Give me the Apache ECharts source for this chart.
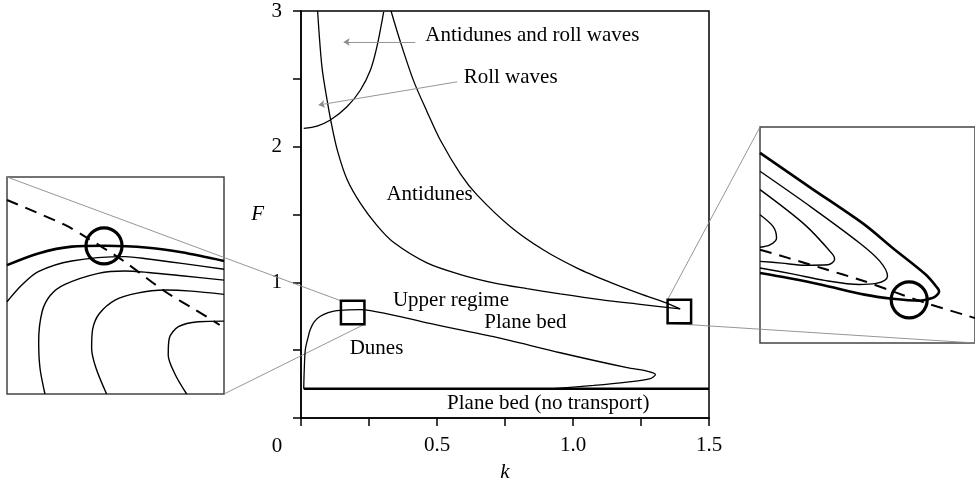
<!DOCTYPE html>
<html>
<head>
<meta charset="utf-8">
<script src="https://cdn.jsdelivr.net/npm/echarts@6/dist/echarts.min.js"></script>
<style>
  html, body { margin: 0; padding: 0; background: #fff; }
  #chart { width: 975px; height: 488px; }
</style>
</head>
<body>
<div id="chart"></div>
<script>
// main diagram, (k, F)
const curveA = [[0.061,3.0],[0.077,2.588],[0.096,2.343],[0.114,2.147],[0.135,1.963],[0.169,1.760],[0.218,1.584],[0.279,1.420],[0.340,1.295],[0.463,1.143],[0.586,1.057],[0.708,0.996],[0.831,0.953],[0.953,0.915],[1.100,0.873],[1.247,0.838],[1.394,0.804]];
const curveB = [[0.331,3.0],[0.365,2.775],[0.414,2.485],[0.463,2.260],[0.512,2.049],[0.586,1.800],[0.647,1.645],[0.769,1.412],[0.892,1.238],[1.015,1.105],[1.137,1.000],[1.248,0.915],[1.340,0.850],[1.394,0.804]];
const rollCurve = [[0.010,2.135],[0.059,2.152],[0.108,2.196],[0.169,2.294],[0.218,2.416],[0.255,2.563],[0.279,2.735],[0.304,2.993]];
const dunesCurve = [[0.010,0.216],[0.012,0.358],[0.016,0.505],[0.027,0.601],[0.034,0.652],[0.049,0.711],[0.071,0.750],[0.100,0.777],[0.132,0.792],[0.218,0.799],[0.255,0.792],[0.365,0.748],[0.463,0.701],[0.708,0.599],[0.953,0.481],[1.199,0.371],[1.272,0.346],[1.303,0.321],[1.284,0.290],[1.199,0.265],[1.076,0.240],[0.929,0.216]];
const noTransport = [[0.010,0.216],[1.5,0.216]];
const zoomBoxes = [[0.190,0.777],[1.391,0.785]];

const regionNames = ['Antidunes and roll waves','Roll waves','Antidunes','Upper regime','Plane bed','Dunes','Plane bed (no transport)'];
const regionPos = [[0.457,2.821],[0.598,2.509],[0.314,1.645],[0.338,0.865],[0.674,0.701],[0.179,0.510],[0.537,0.108]];
const leaders = [[[0.420,2.772],[0.157,2.772]],[[0.574,2.478],[0.065,2.307]]];

// left inset (local 0..1 units)
const leftDash = [[0,0.894],[0.267,0.779],[0.36,0.725],[0.53,0.618],[0.73,0.471],[0.87,0.387],[0.98,0.318]];
const leftThick = [[0,0.594],[0.144,0.648],[0.298,0.679],[0.452,0.683],[0.651,0.674],[0.805,0.653],[1,0.613]];
const leftThinA = [[0,0.425],[0.068,0.502],[0.144,0.564],[0.298,0.613],[0.544,0.633],[0.651,0.622],[0.805,0.602],[1,0.575]];
const leftThinB = [[0.175,0],[0.152,0.12],[0.146,0.241],[0.162,0.38],[0.2,0.455],[0.267,0.505],[0.421,0.556],[0.544,0.567],[0.651,0.560],[0.805,0.545],[1,0.525]];
const leftThinC = [[0.459,0],[0.41,0.12],[0.39,0.21],[0.395,0.3],[0.425,0.37],[0.498,0.433],[0.6,0.465],[0.728,0.479],[0.85,0.474],[1,0.459]];
const leftThinD = [[0.828,0],[0.775,0.09],[0.743,0.18],[0.748,0.257],[0.79,0.31],[0.882,0.333],[1,0.336]];
const leftMark = [[0.447,0.683]];

// right inset
const rightDash = [[0,0.432],[0.130,0.394],[0.286,0.347],[0.486,0.286],[0.617,0.239],[0.772,0.185],[0.972,0.124],[1,0.116]];
const rightThick = [[0,0.880],[0.241,0.715],[0.486,0.548],[0.617,0.440],[0.772,0.316],[0.825,0.255],[0.833,0.239],[0.819,0.218],[0.802,0.208],[0.741,0.196],[0.617,0.205],[0.486,0.224],[0.286,0.270],[0.131,0.301],[0,0.324]];
const rightThin1 = [[0,0.795],[0.241,0.627],[0.463,0.463],[0.556,0.380],[0.593,0.310],[0.580,0.290],[0.540,0.276],[0.463,0.271],[0.3,0.290],[0.15,0.320],[0,0.347]];
const rightThin2 = [[0,0.710],[0.208,0.548],[0.339,0.409],[0.347,0.386],[0.316,0.362],[0.208,0.360],[0.1,0.37],[0,0.378]];
const rightThin3 = [[0,0.594],[0.062,0.538],[0.077,0.485],[0.046,0.454],[0,0.443]];
const rightMark = [[0.694,0.2]];

const FONT = 'Liberation Serif';
const BOX = 23.5;

function curve(data, width, grid, dashed) {
  return {
    type: 'line', data: data, xAxisIndex: grid, yAxisIndex: grid,
    smooth: 0.3, symbol: 'none', silent: true,
    lineStyle: { color: '#000', width: width, type: dashed ? [12, 8] : 'solid' },
    z: 3
  };
}

function ring(data, grid, symbol, size, width) {
  return {
    type: 'scatter', data: data, xAxisIndex: grid, yAxisIndex: grid,
    symbol: symbol, symbolSize: size, silent: true,
    itemStyle: { color: 'rgba(0,0,0,0)', borderColor: '#000', borderWidth: width, opacity: 1 },
    z: 5
  };
}

function insetAxes(i) {
  return {
    x: { type: 'value', gridIndex: i, min: 0, max: 1, show: false },
    y: { type: 'value', gridIndex: i, min: 0, max: 1, show: false }
  };
}

const myChart = echarts.init(document.getElementById('chart'), null, { renderer: 'canvas' });
const ax1 = insetAxes(1), ax2 = insetAxes(2);

const option = {
  animation: false,
  backgroundColor: '#fff',
  textStyle: { fontFamily: FONT },
  grid: [
    { left: 301, top: 11, width: 408, height: 408, show: true, borderColor: '#000', borderWidth: 1.5 },
    { left: 7, top: 177, width: 217, height: 217, show: true, borderColor: '#444', borderWidth: 1.5, backgroundColor: '#fff' },
    { left: 760, top: 127, width: 216, height: 216, show: true, borderColor: '#444', borderWidth: 1.5, backgroundColor: '#fff' }
  ],
  xAxis: [
    {
      type: 'value', gridIndex: 0, min: 0, max: 1.5, interval: 0.25,
      name: 'k', nameLocation: 'middle', nameGap: 44,
      nameTextStyle: { fontFamily: FONT, fontSize: 21, fontStyle: 'italic', color: '#000' },
      axisLine: { lineStyle: { color: '#000', width: 1.5 } },
      axisTick: { inside: false, length: 8, lineStyle: { color: '#000', width: 1.5 } },
      axisLabel: {
        margin: 17, fontFamily: FONT, fontSize: 21, color: '#000',
        formatter: function (v) { return (v > 0 && v % 0.5 === 0) ? v.toFixed(1) : ''; }
      },
      splitLine: { show: false }
    },
    ax1.x, ax2.x
  ],
  yAxis: [
    {
      type: 'value', gridIndex: 0, min: 0, max: 3, interval: 0.5,
      name: 'F', nameLocation: 'middle', nameGap: 37, nameRotate: 0,
      nameTextStyle: { fontFamily: FONT, fontSize: 21, fontStyle: 'italic', color: '#000', align: 'right' },
      axisLine: { lineStyle: { color: '#000', width: 1.5 } },
      axisTick: { inside: false, length: 8, lineStyle: { color: '#000', width: 1.5 } },
      axisLabel: {
        margin: 19, fontFamily: FONT, fontSize: 21, color: '#000',
        formatter: function (v) { return (v > 0 && v % 1 === 0) ? String(v) : ''; }
      },
      splitLine: { show: false }
    },
    ax1.y, ax2.y
  ],
  series: [
    curve(curveA, 1.3, 0),
    curve(curveB, 1.3, 0),
    curve(rollCurve, 1.3, 0),
    curve(dunesCurve, 1.3, 0),
    {
      type: 'line', data: noTransport, xAxisIndex: 0, yAxisIndex: 0, symbol: 'none', silent: true,
      lineStyle: { color: '#000', width: 2.5 }, z: 3
    },
    ring(zoomBoxes, 0, 'rect', BOX, 2.5),
    {
      type: 'scatter', xAxisIndex: 0, yAxisIndex: 0, symbolSize: 0, silent: true,
      itemStyle: { opacity: 1 },
      data: regionNames.map(function (n, i) { return { name: n, value: regionPos[i] }; }),
      label: {
        show: true, position: 'right', distance: 0, formatter: '{b}',
        fontFamily: FONT, fontSize: 21, color: '#000'
      },
      markLine: {
        silent: true, symbol: ['none', 'arrow'], symbolSize: 6,
        lineStyle: { color: '#8a8a8a', width: 0.9, type: 'solid' },
        label: { show: false },
        data: leaders.map(function (l) { return [{ coord: l[0] }, { coord: l[1] }]; })
      },
      z: 4
    },
    // left inset
    curve(leftDash, 2, 1, true),
    curve(leftThick, 2.6, 1),
    curve(leftThinA, 1.4, 1),
    curve(leftThinB, 1.4, 1),
    curve(leftThinC, 1.4, 1),
    curve(leftThinD, 1.4, 1),
    ring(leftMark, 1, 'circle', 36, 3.2),
    // right inset
    curve(rightDash, 2, 2, true),
    curve(rightThick, 2.6, 2),
    curve(rightThin1, 1.4, 2),
    curve(rightThin2, 1.4, 2),
    curve(rightThin3, 1.4, 2),
    ring(rightMark, 2, 'circle', 36, 3.2)
  ]
};

myChart.setOption(option);

// connector lines between the small boxes and the insets, plus the shared origin label
const h = BOX / 2;
const bl = myChart.convertToPixel({ xAxisIndex: 0, yAxisIndex: 0 }, zoomBoxes[0]);
const br = myChart.convertToPixel({ xAxisIndex: 0, yAxisIndex: 0 }, zoomBoxes[1]);
const lTL = myChart.convertToPixel({ xAxisIndex: 1, yAxisIndex: 1 }, [0, 1]);
const lBR = myChart.convertToPixel({ xAxisIndex: 1, yAxisIndex: 1 }, [1, 0]);
const rTL = myChart.convertToPixel({ xAxisIndex: 2, yAxisIndex: 2 }, [0, 1]);
const rBR = myChart.convertToPixel({ xAxisIndex: 2, yAxisIndex: 2 }, [1, 0]);
const origin = myChart.convertToPixel({ xAxisIndex: 0, yAxisIndex: 0 }, [0, 0]);

function connector(a, b) {
  return {
    type: 'line', silent: true, z: 1,
    shape: { x1: a[0], y1: a[1], x2: b[0], y2: b[1] },
    style: { stroke: '#8a8a8a', lineWidth: 0.9 }
  };
}

myChart.setOption({
  graphic: [
    connector(lTL, [bl[0] - h, bl[1] - h]),
    connector(lBR, [bl[0] + h, bl[1] + h]),
    connector([br[0] - h, br[1] - h], rTL),
    connector([br[0] - h, br[1] + h], rBR),
    {
      type: 'text', silent: true, x: origin[0] - 24, y: origin[1] + 28,
      style: { text: '0', font: '21px "Liberation Serif"', fill: '#000', align: 'center', verticalAlign: 'middle' }
    }
  ]
});

window.addEventListener('resize', function () {
  myChart.resize();
});
</script>
</body>
</html>
